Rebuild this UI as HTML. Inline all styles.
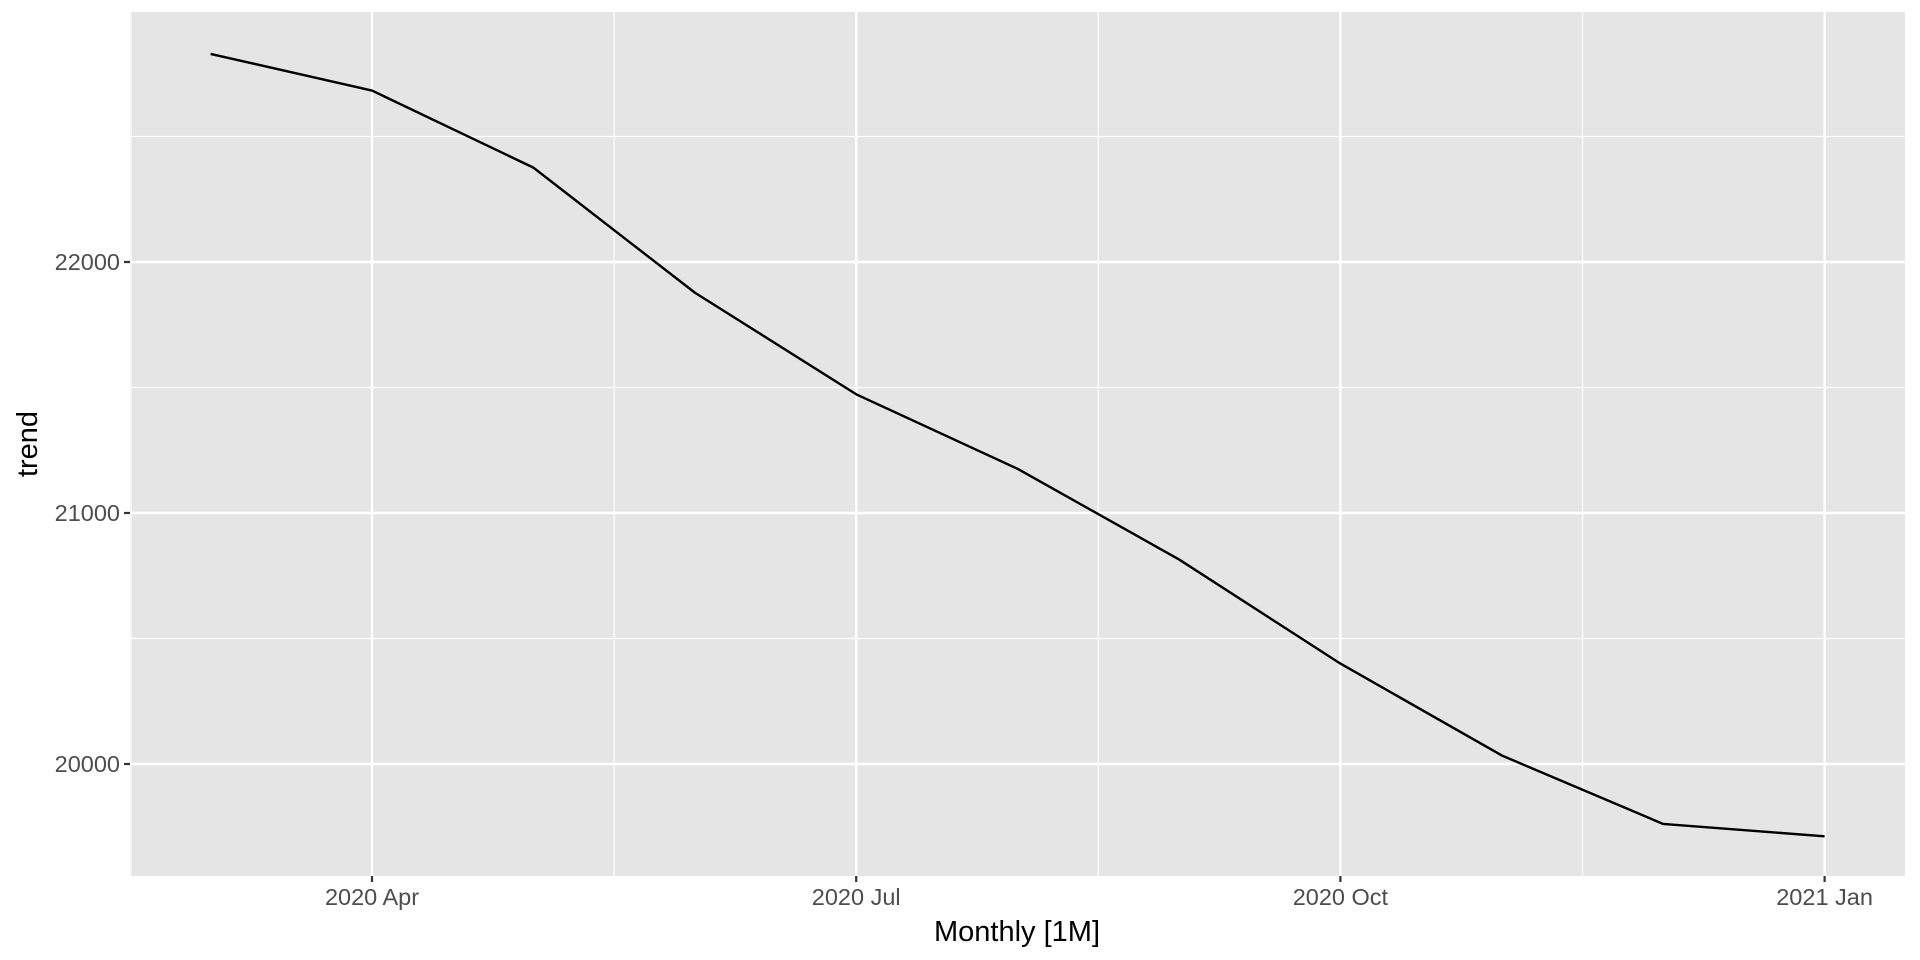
<!DOCTYPE html>
<html><head><meta charset="utf-8"><style>
body{margin:0;background:#fff;}
svg{display:block;font-family:"Liberation Sans",Arial,sans-serif;}
</style></head><body>
<svg id="chart" width="1920" height="960">
<rect x="130" y="12" width="1775" height="864" fill="#e5e5e5"/>
<g id="grid"></g><g id="series"></g><g id="axes"></g>
<text x="1017" y="941" text-anchor="middle" font-size="29" fill="#000">Monthly [1M]</text>
<text transform="translate(37,444) rotate(-90)" text-anchor="middle" font-size="29" fill="#000">trend</text>
</svg>
<script>
const months = ["2020 Mar","2020 Apr","2020 May","2020 Jun","2020 Jul","2020 Aug","2020 Sep","2020 Oct","2020 Nov","2020 Dec","2021 Jan"];
const trend = [22829,22683,22376,21878,21473,21176,20815,20400,20034,19761,19712];
const yTicks = [20000,21000,22000];
const yMinor = [19500,20500,21500,22500];
const xTickLabels = ["2020 Apr","2020 Jul","2020 Oct","2021 Jan"];
const xTickIdx = [1,4,7,10];
const xMinorIdx = [-0.5,2.5,5.5,8.5];

const NS="http://www.w3.org/2000/svg";
const X0=130,X1=1905,Y0=12,Y1=876;
function xs(i){return 210.6+i*161.4;}
function ys(v){return 764-(v-20000)*0.251;}
function mk(tag,attrs,parent){const e=document.createElementNS(NS,tag);for(const k in attrs)e.setAttribute(k,attrs[k]);parent.appendChild(e);return e;}
const grid=document.getElementById('grid'),axes=document.getElementById('axes'),series=document.getElementById('series');
yMinor.forEach(v=>{const y=ys(v);if(y<Y0||y>Y1)return;
 const l=mk('line',{x1:X0,x2:X1,y1:y,y2:y,stroke:'#fff','stroke-width':1.2},grid);
 
 });
xMinorIdx.forEach(i=>{const x=Math.max(xs(i),X0+1);
 const l=mk('line',{x1:x,x2:x,y1:Y0,y2:Y1,stroke:'#fff','stroke-width':1.2},grid);
 
 });
yTicks.forEach(v=>{const y=ys(v);
 const l=mk('line',{x1:X0,x2:X1,y1:y,y2:y,stroke:'#fff','stroke-width':2.4},grid);
 
 
 const t=mk('line',{x1:X0-6,x2:X0,y1:y,y2:y,stroke:'#333','stroke-width':2.2},axes);
 
 
 const tx=mk('text',{x:X0-10,y:y+8,'text-anchor':'end','font-size':23.5,fill:'#4d4d4d'},axes);
 tx.textContent=v;
 
 });
xTickIdx.forEach((i,k)=>{const x=xs(i);
 const l=mk('line',{x1:x,x2:x,y1:Y0,y2:Y1,stroke:'#fff','stroke-width':2.4},grid);
 
 
 const t=mk('line',{x1:x,x2:x,y1:Y1,y2:Y1+6,stroke:'#333','stroke-width':2.2},axes);
 
 
 const tx=mk('text',{x:x,y:Y1+29,'text-anchor':'middle','font-size':23.5,fill:'#4d4d4d'},axes);
 tx.textContent=xTickLabels[k];
 
 });
const pts=trend.map((v,i)=>xs(i)+','+ys(v)).join(' ');
const pl=mk('polyline',{points:pts,fill:'none',stroke:'#000','stroke-width':2.4,'stroke-linejoin':'round'},series);


</script>
</body></html>
